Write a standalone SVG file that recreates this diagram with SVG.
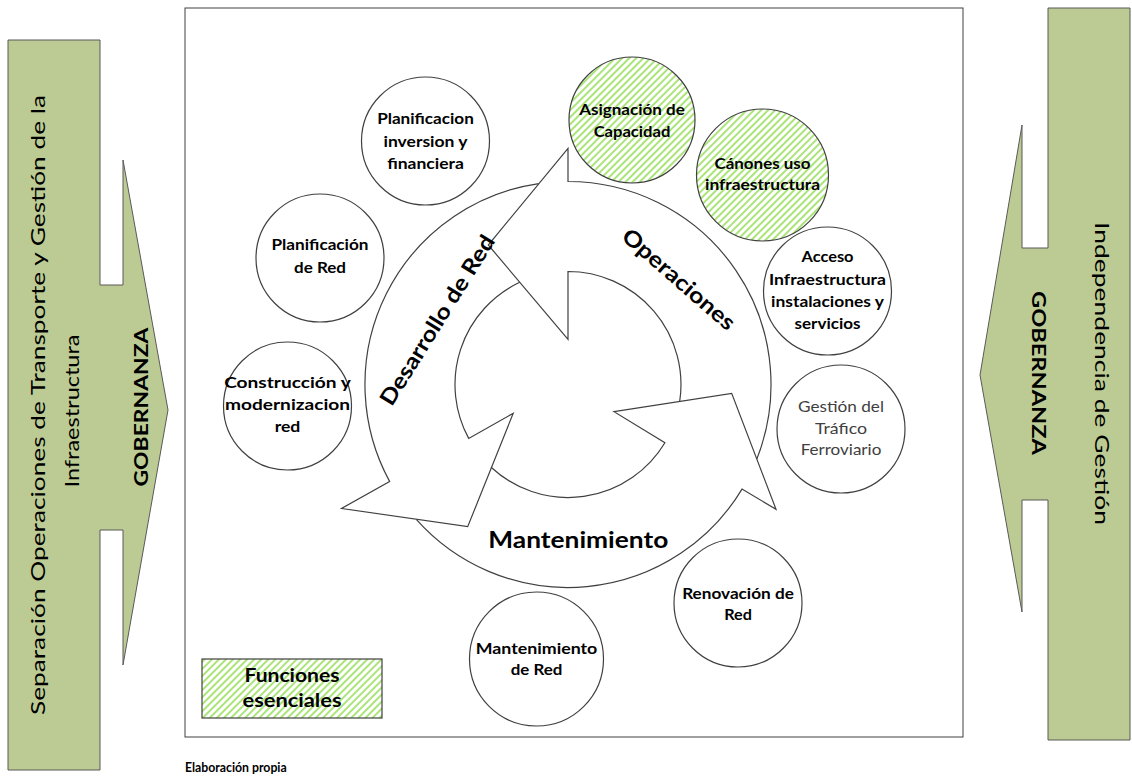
<svg xmlns="http://www.w3.org/2000/svg" width="1132" height="781" viewBox="0 0 1132 781">
<defs>
<pattern id="hatch" patternUnits="userSpaceOnUse" width="5" height="5" patternTransform="rotate(45)">
<rect width="5" height="5" fill="#ffffff"/>
<line x1="1" y1="0" x2="1" y2="5" stroke="#8fdc4c" stroke-width="1.5"/>
</pattern>
</defs>
<style>
.side{fill:#bccb94;stroke:#595959;stroke-width:1}
.frame{fill:#ffffff;stroke:#404040;stroke-width:1}
.node{fill:#ffffff;stroke:#404040;stroke-width:1.2}
.ess{fill:url(#hatch);stroke:#404040;stroke-width:1.2}
.arc{fill:none;stroke:#404040;stroke-width:1.2;stroke-linejoin:miter}
.t{font-family:Lato,"Open Sans","Liberation Sans",sans-serif;font-weight:bold;font-size:15px;fill:#000000;text-anchor:middle}
.tn{font-family:Lato,"Open Sans","Liberation Sans",sans-serif;font-weight:normal;font-size:15px;fill:#404040;text-anchor:middle}
.big{font-family:Lato,"Open Sans","Liberation Sans",sans-serif;font-weight:bold;font-size:22px;fill:#000000;text-anchor:middle}
.sidet{font-family:Lato,"Open Sans","Liberation Sans",sans-serif;font-weight:normal;font-size:19px;fill:#000000;text-anchor:middle}
.gob{font-family:Lato,"Open Sans","Liberation Sans",sans-serif;font-weight:bold;font-size:19px;fill:#000000;text-anchor:middle}
.leg{font-family:Lato,"Open Sans","Liberation Sans",sans-serif;font-weight:bold;font-size:19px;fill:#000000;text-anchor:middle}
.src{font-family:Lato,"Open Sans","Liberation Sans",sans-serif;font-weight:bold;font-size:12.5px;fill:#000000}
</style>

<g id="frame">
<rect class="frame" x="185" y="8" width="778" height="729"/>
</g>

<g id="left-governance">
<path class="side" d="M8,40 H100 V285 H123 V160 L168,410 L123,665 V530 H100 V770 H8 Z"/>
<text class="sidet" transform="translate(45,405) rotate(-90)" textLength="620" lengthAdjust="spacingAndGlyphs">Separación Operaciones de Transporte y Gestión de la</text>
<text class="sidet" transform="translate(79,411) rotate(-90)" textLength="153" lengthAdjust="spacingAndGlyphs">Infraestructura</text>
<text class="gob" transform="translate(148,407) rotate(-90)" textLength="159" lengthAdjust="spacingAndGlyphs">GOBERNANZA</text>
</g>

<g id="right-governance">
<path class="side" d="M1130,8 H1048 V248 H1022 V125 L980,375 L1022,612 V500 H1048 V740 H1130 Z"/>
<text class="sidet" transform="translate(1095,373.5) rotate(90)" textLength="303" lengthAdjust="spacingAndGlyphs">Independencia de Gestión</text>
<text class="gob" transform="translate(1032,373) rotate(90)" textLength="164" lengthAdjust="spacingAndGlyphs">GOBERNANZA</text>
</g>

<g id="cycle">
<path id="arrow-operaciones" class="arc" d="M756.8,459.1 A203,203 0 0 0 568,181.5 L568,148.3 L488.3,245 L568,339.3 L568,271.5 A113,113 0 0 1 679.7,401.4"/>
<path id="arrow-desarrollo" class="arc" d="M538.7,183.6 A203,203 0 0 0 389.6,481.4 L341.5,508.5 L467.7,526.7 L513.2,413.3 L468.7,438.4 A113,113 0 0 1 519.7,282.3"/>
<path id="arrow-mantenimiento" class="arc" d="M416.5,519.6 A203,203 0 0 0 742,489.1 L776,509.3 L731.7,393.3 L614,411.7 L664.9,442.7 A113,113 0 0 1 491.1,467.3"/>
<text class="big" transform="translate(437,320) rotate(-58)" dy="8" textLength="196" lengthAdjust="spacingAndGlyphs">Desarrollo de Red</text>
<text class="big" transform="translate(679,279) rotate(41)" dy="8" textLength="142" lengthAdjust="spacingAndGlyphs">Operaciones</text>
<text class="big" x="578.3" y="548" textLength="180" lengthAdjust="spacingAndGlyphs">Mantenimiento</text>
</g>

<g id="node-planificacion-inversion">
<circle class="node" cx="425.5" cy="141" r="64"/>
<text class="t" x="425.5" y="123.5" textLength="96.7" lengthAdjust="spacingAndGlyphs">Planificacion</text>
<text class="t" x="425.5" y="146.5" textLength="84" lengthAdjust="spacingAndGlyphs">inversion y</text>
<text class="t" x="425.5" y="168.5" textLength="76.7" lengthAdjust="spacingAndGlyphs">financiera</text>
</g>

<g id="node-planificacion-red">
<circle class="node" cx="320" cy="258" r="64"/>
<text class="t" x="320" y="250" textLength="97" lengthAdjust="spacingAndGlyphs">Planificación</text>
<text class="t" x="320" y="273" textLength="52" lengthAdjust="spacingAndGlyphs">de Red</text>
</g>

<g id="node-construccion">
<circle class="node" cx="287.5" cy="406" r="64"/>
<text class="t" x="287.5" y="388" textLength="126.7" lengthAdjust="spacingAndGlyphs">Construcción y</text>
<text class="t" x="287.5" y="410" textLength="125" lengthAdjust="spacingAndGlyphs">modernizacion</text>
<text class="t" x="287.5" y="432" textLength="25.7" lengthAdjust="spacingAndGlyphs">red</text>
</g>

<g id="node-asignacion">
<circle class="ess" cx="632" cy="120" r="63"/>
<text class="t" x="632" y="115" textLength="105.7" lengthAdjust="spacingAndGlyphs">Asignación de</text>
<text class="t" x="632" y="137" textLength="76.7" lengthAdjust="spacingAndGlyphs">Capacidad</text>
</g>

<g id="node-canones">
<circle class="ess" cx="762.5" cy="175" r="66"/>
<text class="t" x="762.5" y="168.5" textLength="96" lengthAdjust="spacingAndGlyphs">Cánones uso</text>
<text class="t" x="762.5" y="190" textLength="115" lengthAdjust="spacingAndGlyphs">infraestructura</text>
</g>

<g id="node-acceso">
<circle class="node" cx="827.5" cy="291" r="64"/>
<text class="t" x="827.5" y="262" textLength="52" lengthAdjust="spacingAndGlyphs">Acceso</text>
<text class="t" x="827.5" y="284.5" textLength="117" lengthAdjust="spacingAndGlyphs">Infraestructura</text>
<text class="t" x="827.5" y="307" textLength="113" lengthAdjust="spacingAndGlyphs">instalaciones y</text>
<text class="t" x="827.5" y="329" textLength="66" lengthAdjust="spacingAndGlyphs">servicios</text>
</g>

<g id="node-gestion-trafico">
<circle class="node" cx="841" cy="429" r="64"/>
<text class="tn" x="841" y="412" textLength="86" lengthAdjust="spacingAndGlyphs">Gestión del</text>
<text class="tn" x="841" y="433.5" textLength="52" lengthAdjust="spacingAndGlyphs">Tráfico</text>
<text class="tn" x="841" y="455" textLength="80.7" lengthAdjust="spacingAndGlyphs">Ferroviario</text>
</g>

<g id="node-renovacion">
<circle class="node" cx="738" cy="603" r="64"/>
<text class="t" x="738" y="598.5" textLength="111.7" lengthAdjust="spacingAndGlyphs">Renovación de</text>
<text class="t" x="738" y="620" textLength="27.7" lengthAdjust="spacingAndGlyphs">Red</text>
</g>

<g id="node-mantenimiento-red">
<circle class="node" cx="536.5" cy="659" r="67"/>
<text class="t" x="536.5" y="653.5" textLength="121.7" lengthAdjust="spacingAndGlyphs">Mantenimiento</text>
<text class="t" x="536.5" y="675" textLength="51.7" lengthAdjust="spacingAndGlyphs">de Red</text>
</g>

<g id="legend">
<rect class="ess" x="202" y="659" width="180" height="59"/>
<text class="leg" x="292" y="682" textLength="95" lengthAdjust="spacingAndGlyphs">Funciones</text>
<text class="leg" x="292" y="707" textLength="99" lengthAdjust="spacingAndGlyphs">esenciales</text>
</g>

<text class="src" x="185" y="772" textLength="101.7" lengthAdjust="spacingAndGlyphs">Elaboración propia</text>
</svg>
